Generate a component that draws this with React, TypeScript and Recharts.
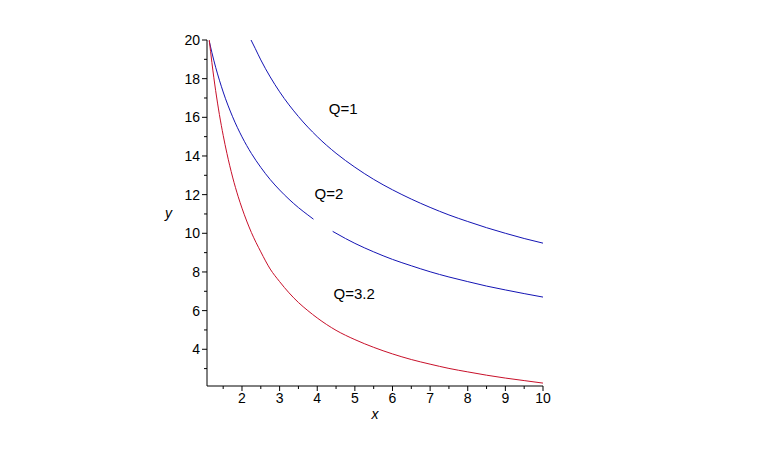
import { LineChart, Line, XAxis, YAxis, ReferenceDot } from 'recharts'

// values
const q1X = [2.24, 2.35, 2.5, 2.75, 3, 3.5, 4, 4.5, 5, 5.5, 6, 6.5, 7, 7.5, 8, 8.5, 9, 9.5, 10]
const q1Y = [20.0, 19.57, 18.97, 18.09, 17.32, 16.04, 15.0, 14.14, 13.42, 12.79, 12.25, 11.77, 11.34, 10.95, 10.61, 10.29, 10.0, 9.73, 9.49]

const q2X = [1.13, 1.2, 1.3, 1.4, 1.5, 1.75, 2, 2.25, 2.5, 2.75, 3, 3.25, 3.5, 3.75, 3.9, 4.15, 4.41, 4.75, 5, 5.5, 6, 6.5, 7, 7.5, 8, 8.5, 9, 9.5, 10]
const q2Y = [19.94, 19.35, 18.59, 17.92, 17.31, 16.03, 14.99, 14.13, 13.41, 12.78, 12.24, 11.76, 11.33, 10.95, 10.73, null, 10.1, 9.73, 9.48, 9.04, 8.65, 8.32, 8.01, 7.74, 7.5, 7.27, 7.07, 6.88, 6.7]

const q3X = [1.13, 1.2, 1.3, 1.4, 1.5, 1.6, 1.75, 1.9, 2, 2.25, 2.5, 2.75, 3, 3.25, 3.5, 3.75, 4, 4.5, 5, 5.5, 6, 6.5, 7, 7.5, 8, 8.5, 9, 9.5, 10]
const q3Y = [20.0, 18.83, 17.38, 16.14, 15.07, 14.13, 12.91, 11.89, 11.3, 10.04, 9.04, 8.15, 7.5, 6.92, 6.42, 6.0, 5.62, 4.98, 4.5, 4.1, 3.76, 3.47, 3.23, 3.01, 2.83, 2.66, 2.51, 2.38, 2.25]

const xTicks = [1.5, 2, 2.5, 3, 3.5, 4, 4.5, 5, 5.5, 6, 6.5, 7, 7.5, 8, 8.5, 9, 9.5, 10]
const yTicks = [3, 4, 5, 6, 7, 8, 9, 10, 11, 12, 13, 14, 15, 16, 17, 18, 19, 20]

const curveLabels = [
  { text: 'Q=1', x: 4.69, y: 16.43 },
  { text: 'Q=2', x: 4.31, y: 12.03 },
  { text: 'Q=3.2', x: 4.98, y: 6.9 },
]

const toPoints = (xs: number[], ys: (number | null)[]) => xs.map((x, i) => ({ x, y: ys[i] }))

const FONT = '"Liberation Sans", Arial, sans-serif'
const BLUE = '#1414b4'
const RED = '#c8102a'

const XTick = ({ x, y, payload }: any) => {
  const major = Number.isInteger(payload.value)
  return (
    <g>
      <line x1={x} x2={x} y1={y} y2={y + (major ? 5 : 3)} stroke="#000" />
      {major && (
        <text x={x} y={y + 17} textAnchor="middle" fontSize={14} fontFamily={FONT} fill="#000">
          {payload.value}
        </text>
      )}
    </g>
  )
}

const YTick = ({ x, y, payload }: any) => {
  const major = payload.value % 2 === 0
  return (
    <g>
      <line x1={x - (major ? 5 : 3)} x2={x} y1={y} y2={y} stroke="#000" />
      {major && (
        <text x={x - 7} y={y + 5} textAnchor="end" fontSize={14} fontFamily={FONT} fill="#000">
          {payload.value}
        </text>
      )}
    </g>
  )
}

export default function App() {
  return (
    <div style={{ position: 'absolute', left: 0, top: 0, width: 759, height: 468, background: '#fff' }}>
      <LineChart width={759} height={468} margin={{ top: 40, right: 216, left: 177, bottom: 52 }}>
        <XAxis
          type="number"
          dataKey="x"
          domain={[1.07, 10]}
          allowDataOverflow
          ticks={xTicks}
          interval={0}
          height={30}
          tickSize={0}
          tickMargin={0}
          tickLine={false}
          tick={<XTick />}
          axisLine={{ stroke: '#000' }}
          label={{ value: 'x', position: 'bottom', offset: -7, style: { fontSize: 14, fontStyle: 'italic', fontFamily: FONT, fill: '#000' } }}
        />
        <YAxis
          type="number"
          domain={[2.1, 20]}
          allowDataOverflow
          ticks={yTicks}
          interval={0}
          width={30}
          tickSize={0}
          tickMargin={0}
          tickLine={false}
          tick={<YTick />}
          axisLine={{ stroke: '#000' }}
          label={{ value: 'y', position: 'left', offset: 5, style: { fontSize: 14, fontStyle: 'italic', fontFamily: FONT, fill: '#000' } }}
        />
        <Line data={toPoints(q1X, q1Y)} dataKey="y" type="monotone" stroke={BLUE} strokeWidth={1} dot={false} activeDot={false} isAnimationActive={false} />
        <Line data={toPoints(q2X, q2Y)} dataKey="y" type="monotone" stroke={BLUE} strokeWidth={1} dot={false} activeDot={false} connectNulls={false} isAnimationActive={false} />
        <Line data={toPoints(q3X, q3Y)} dataKey="y" type="monotone" stroke={RED} strokeWidth={1} dot={false} activeDot={false} isAnimationActive={false} />
        {curveLabels.map((l) => (
          <ReferenceDot
            key={l.text}
            x={l.x}
            y={l.y}
            r={1}
            fill="none"
            stroke="none"
            label={{ value: l.text, position: 'center', style: { fontSize: 15, fontFamily: FONT, fill: '#000' } }}
          />
        ))}
      </LineChart>
    </div>
  )
}
